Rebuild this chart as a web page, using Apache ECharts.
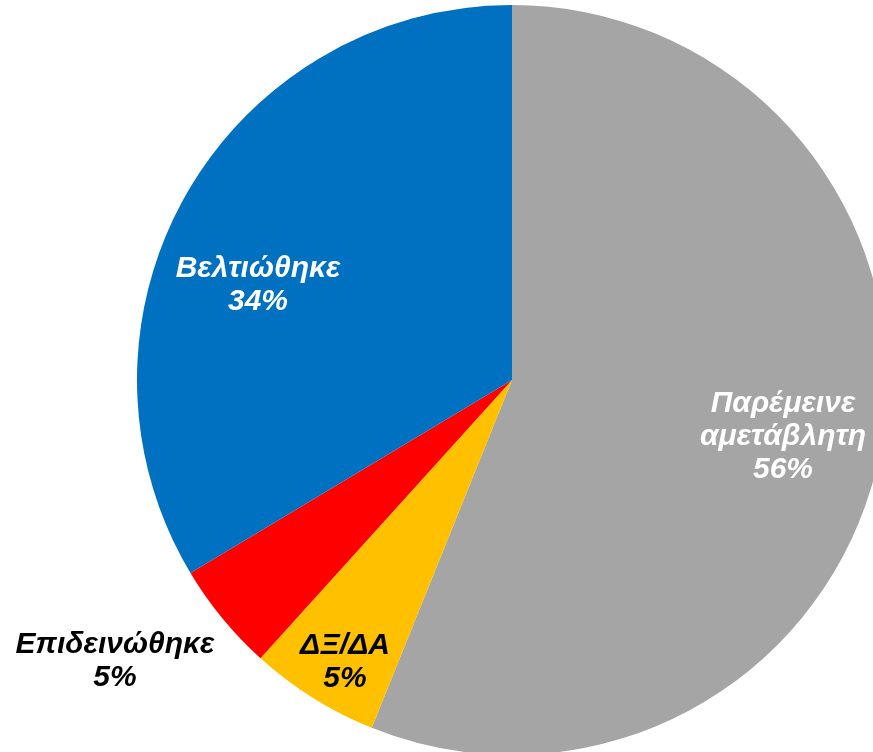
<!DOCTYPE html>
<html>
<head>
<meta charset="utf-8">
<script src="https://cdn.jsdelivr.net/npm/echarts@6/dist/echarts.min.js"></script>
<style>
  html, body { margin: 0; padding: 0; background: #fff; }
  #chart { width: 873px; height: 752px; }
</style>
</head>
<body>
<div id="chart"></div>
<script>
// slices, clockwise from 12 o'clock
const categories = ['Παρέμεινε\nαμετάβλητη', 'ΔΞ/ΔΑ', 'Επιδεινώθηκε', 'Βελτιώθηκε']
const values = [56.1, 5.6, 4.7, 33.6]
const percentLabels = ['56%', '5%', '5%', '34%']

const colors = ['#A5A5A5', '#FFC000', '#FF0000', '#0070C0']
const labelColors = ['#fff', '#000', '#000', '#fff']
// where each label sits (centre of the text block)
const labelPos = [[783, 437], [345, 662], [115, 661], [258, 285]]

const chart = echarts.init(document.getElementById('chart'))
chart.setOption({
  animation: false,
  series: [{
    type: 'pie',
    center: [512, 380],
    radius: 375,
    startAngle: 90,
    clockwise: true,
    avoidLabelOverlap: false,
    emphasis: { disabled: true },
    labelLine: { show: false },
    label: {
      show: true,
      position: 'inside',
      fontFamily: '"Liberation Sans", Arial, sans-serif',
      fontWeight: 'bold',
      fontStyle: 'italic',
      fontSize: 30,
      lineHeight: 33,
      align: 'center',
      formatter: p => categories[p.dataIndex] + '\n' + percentLabels[p.dataIndex]
    },
    labelLayout: p => ({
      x: labelPos[p.dataIndex][0],
      y: labelPos[p.dataIndex][1],
      align: 'center',
      verticalAlign: 'middle'
    }),
    data: values.map((v, i) => ({
      name: categories[i],
      value: v,
      itemStyle: { color: colors[i] },
      label: { color: labelColors[i] }
    }))
  }]
})
</script>
</body>
</html>
